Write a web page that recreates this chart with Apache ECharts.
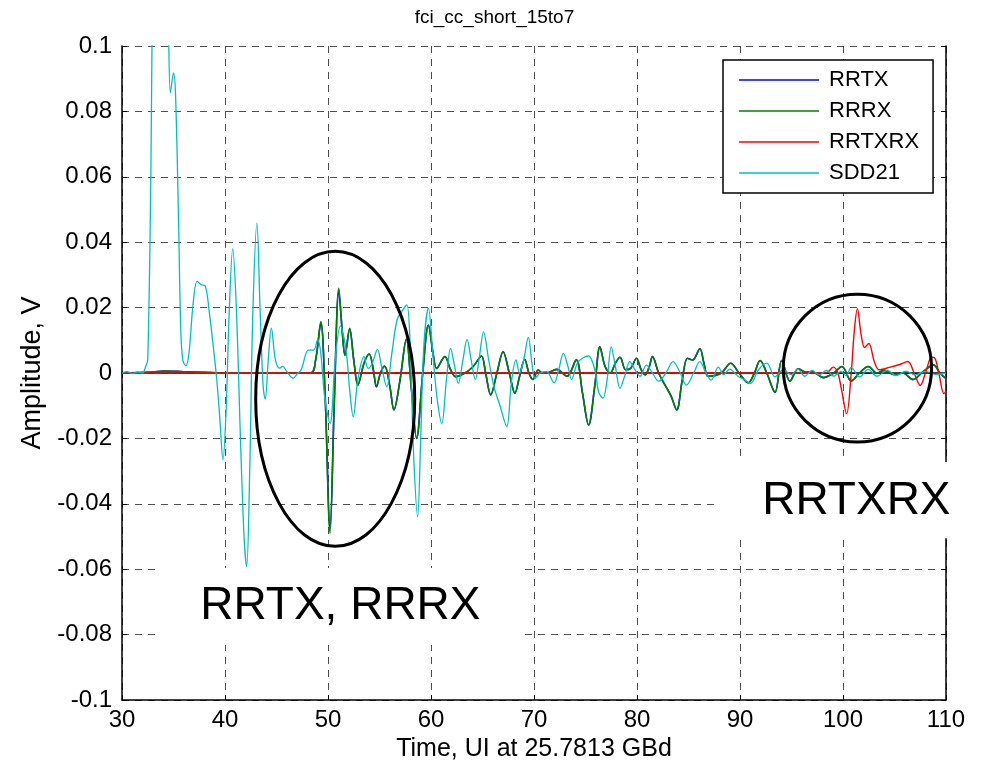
<!DOCTYPE html>
<html>
<head>
<meta charset="utf-8">
<script src="https://cdn.jsdelivr.net/npm/echarts@6/dist/echarts.min.js"></script>
<style>
  html, body { margin: 0; padding: 0; background: #fff; }
  #chart { width: 989px; height: 771px; }
</style>
</head>
<body>
<div id="chart"></div>
<script>
// x ticks / y ticks
const xTicks = [30, 40, 50, 60, 70, 80, 90, 100, 110]
const yTicks = [-0.1, -0.08, -0.06, -0.04, -0.02, 0, 0.02, 0.04, 0.06, 0.08, 0.1]

// [time UI, amplitude V]
const rrtx = [[30,0],[33,0.0003],[34,0.0006],[36,0.0004],[38,0.0002],[40,0],[48.3,0],[48.8,0.004],[49.3,0.0152],[49.7,-0.005],[50.2,-0.0475],[50.6,-0.01],[51.05,0.025],[51.4,0.012],[51.65,0.0054],[52.1,0.0135],[52.5,0.004],[52.9,-0.0037],[53.5,0.003],[54.0,0.0058],[54.4,0.001],[54.7,-0.0042],[55.1,0],[55.5,0.0021],[56.0,-0.004],[56.4,-0.0113],[57.0,-0.002],[57.6,0.0103],[58.1,-0.005],[58.6,-0.02],[59.2,0],[59.75,0.0147],[60.2,0.006],[60.55,0.0014],[61.35,0.005],[61.9,0.001],[62.4,-0.0011],[63.3,0],[64.1,0.002],[64.9,0.0052],[65.3,0],[65.8,-0.0067],[66.4,0],[67.0,0.0065],[67.6,0],[68.15,-0.0062],[68.6,-0.001],[69.1,0.0042],[69.5,0],[69.9,-0.002],[70.4,0.0009],[70.8,0],[71.2,0],[72.2,0.0011],[73.2,-0.001],[74.1,0.004],[74.7,-0.006],[75.3,-0.0159],[75.9,-0.004],[76.4,0.008],[76.9,0.002],[77.4,0],[77.9,0.003],[78.35,0.0048],[78.9,0.001],[79.4,0.0015],[79.95,0.0045],[80.4,0.001],[80.8,-0.0006],[81.2,0.002],[81.5,0.005],[82.1,0],[82.6,-0.003],[83.3,-0.007],[83.85,-0.0113],[84.4,-0.002],[84.9,0.0045],[85.4,0.004],[86.1,0.0074],[86.5,0.003],[86.9,-0.001],[87.5,-0.0008],[88.2,0],[89.1,0.003],[89.9,0],[90.8,-0.003],[91.4,0],[91.95,0.0038],[92.6,0],[93.4,-0.0059],[94.05,0.0038],[94.85,-0.0025],[95.65,0.0013],[96.3,0.0004],[97.0,0.0004],[98.1,-0.0014],[99.1,0],[99.9,0.002],[100.8,-0.0024],[101.6,0],[102.45,0.002],[103.3,0],[104.0,0.0008],[105.0,-0.0005],[105.8,0],[106.8,-0.002],[107.8,0.0005],[108.8,0.0025],[109.4,0],[110,-0.0017]]

const rrrx = [[30,0],[33,0.0003],[34,0.0006],[36,0.0004],[38,0.0002],[40,0],[48.3,0],[48.8,0.004],[49.3,0.0157],[49.7,-0.005],[50.2,-0.049],[50.6,-0.01],[51.05,0.0259],[51.4,0.012],[51.65,0.0054],[52.1,0.0137],[52.5,0.004],[52.9,-0.0037],[53.5,0.003],[54.0,0.0058],[54.4,0.001],[54.7,-0.0042],[55.1,0],[55.5,0.0021],[56.0,-0.004],[56.4,-0.0113],[57.0,-0.002],[57.6,0.0103],[58.1,-0.005],[58.6,-0.02],[59.2,0],[59.75,0.0147],[60.2,0.006],[60.55,0.0014],[61.35,0.005],[61.9,0.001],[62.4,-0.0011],[63.3,0],[64.1,0.002],[64.9,0.0052],[65.3,0],[65.8,-0.0067],[66.4,0],[67.0,0.0065],[67.6,0],[68.15,-0.0062],[68.6,-0.001],[69.1,0.0042],[69.5,0],[69.9,-0.002],[70.4,0.0009],[70.8,0],[71.2,0],[72.2,0.0011],[73.2,-0.001],[74.1,0.004],[74.7,-0.006],[75.3,-0.0159],[75.9,-0.004],[76.4,0.008],[76.9,0.002],[77.4,0],[77.9,0.003],[78.35,0.0048],[78.9,0.001],[79.4,0.0015],[79.95,0.0045],[80.4,0.001],[80.8,-0.0006],[81.2,0.002],[81.5,0.005],[82.1,0],[82.6,-0.003],[83.3,-0.007],[83.85,-0.0113],[84.4,-0.002],[84.9,0.0045],[85.4,0.004],[86.1,0.0074],[86.5,0.003],[86.9,-0.001],[87.5,-0.0008],[88.2,0],[89.1,0.003],[89.9,0],[90.8,-0.003],[91.4,0],[91.95,0.0038],[92.6,0],[93.4,-0.0059],[94.05,0.0038],[94.85,-0.0025],[95.65,0.0013],[96.3,0.0004],[97.0,0.0004],[98.1,-0.0014],[99.1,0],[99.9,0.002],[100.8,-0.0024],[101.6,0],[102.45,0.002],[103.3,0],[104.0,0.0008],[105.0,-0.0005],[105.8,0],[106.8,-0.002],[107.8,0.0005],[108.8,0.0025],[109.4,0],[110,-0.0017]]

const rrtxrx = [[30,0],[98.2,0],[98.6,0.0005],[99.05,0.0018],[99.5,0],[99.85,-0.005],[100.35,-0.0125],[100.8,0],[101.1,0.013],[101.4,0.0197],[101.75,0.012],[102.1,0.0078],[102.5,0.009],[103.05,0.0034],[103.5,0.001],[104.5,0.0017],[105.5,0.0026],[106.3,0.0035],[106.9,0],[107.5,-0.0038],[108.1,0.001],[108.6,0.0048],[108.9,0.0046],[109.3,0],[109.8,-0.0063],[110,-0.0055]]

const sdd21 = [[30,0],[30.5,0.0004],[31,-0.0002],[31.5,0.0003],[32,0],[32.3,0.002],[32.5,0.004],[32.8,0.06],[33.1,0.16],[33.6,0.23],[34.1,0.18],[34.5,0.11],[34.7,0.0857],[35.0,0.0918],[35.2,0.085],[35.5,0.045],[35.7,0.014],[35.9,0.004],[36.2,0.0022],[36.5,0.006],[36.9,0.021],[37.3,0.028],[37.7,0.027],[38.1,0.0265],[38.5,0.018],[38.9,0.007],[39.2,-0.002],[39.5,-0.014],[39.8,-0.0266],[40.1,-0.012],[40.4,0.018],[40.75,0.038],[41.1,0.02],[41.5,-0.02],[41.85,-0.05],[42.1,-0.0592],[42.4,-0.03],[42.7,0.018],[43.1,0.0458],[43.4,0.02],[43.7,-0.004],[43.9,-0.008],[44.2,0.004],[44.5,0.0137],[44.9,0.004],[45.3,0.0015],[45.6,0.002],[46.0,0.0005],[46.6,-0.0016],[47.0,-0.0003],[47.4,0.001],[48.1,0.007],[48.6,0.007],[49.0,0.0103],[49.3,0.006],[49.7,-0.008],[50.2,-0.0154],[50.7,0.004],[51.2,0.0144],[51.75,0.007],[52.1,-0.005],[52.45,-0.0134],[52.9,-0.002],[53.5,0.005],[53.9,0.0014],[54.3,0.003],[54.8,0.0072],[55.2,0.002],[55.7,-0.0042],[56.2,0.006],[56.7,0.0162],[57.2,0.019],[57.65,0.0208],[58.0,0.006],[58.3,-0.024],[58.7,-0.044],[59.0,-0.02],[59.3,0.008],[59.75,0.0198],[60.2,0.005],[60.6,-0.008],[61.05,-0.0154],[61.5,-0.002],[61.9,0.0075],[62.3,0.002],[62.65,-0.0032],[63.1,0.004],[63.5,0.0103],[63.9,0.004],[64.3,-0.002],[64.7,0.005],[65.1,0.0126],[65.6,0.004],[66.1,-0.004],[66.7,-0.01],[67.35,-0.0164],[67.8,-0.003],[68.25,0.004],[68.6,0],[69.0,0.004],[69.45,0.0109],[69.8,0.003],[70.1,-0.0016],[70.6,0],[71.2,0.0005],[71.95,-0.003],[72.4,0.001],[72.85,0.006],[73.3,0.002],[73.65,-0.002],[74.2,0.003],[74.7,0.0045],[75.3,0.0052],[75.9,0.001],[76.3,-0.006],[76.7,-0.0077],[77.1,-0.002],[77.5,0.008],[77.9,0.002],[78.35,-0.0047],[78.8,-0.001],[79.3,0.0035],[79.8,0.001],[80.3,-0.001],[80.9,0.0024],[81.5,0],[82.1,-0.0025],[82.8,0],[83.5,0.0035],[84.2,0],[84.8,-0.0037],[85.5,0],[86.1,0.0035],[86.7,0],[87.2,-0.0022],[87.9,0.0018],[88.4,-0.0005],[89.0,0.0012],[89.8,-0.001],[90.4,-0.002],[91.0,-0.0032],[91.8,0.001],[92.6,0.003],[93.4,-0.0012],[94.2,0.001],[95.0,-0.0005],[95.6,0.0012],[96.3,-0.001],[97.0,0.0008],[97.7,-0.0006],[98.4,0.0008],[99.1,-0.001],[99.8,0.0005],[100.3,-0.0008],[100.8,0.0017],[101.6,-0.0012],[102.45,0.0011],[103.3,-0.001],[104.3,0.0008],[105.2,-0.0008],[106.1,0.0006],[107.0,-0.0006],[108.0,0.0005],[109.0,-0.0004],[110,0]]

const seriesNames = ['RRTX', 'RRRX', 'RRTXRX', 'SDD21']
const seriesColors = ['#0000ff', '#008000', '#ff0000', '#00bfbf']

const FONT = '"Liberation Sans", Arial, sans-serif'

const chart = echarts.init(document.getElementById('chart'), null, {renderer: 'canvas'})

// shared axis look (matlab style box with inward ticks)
const gridLine = {show: true, lineStyle: {color: '#222', type: [7, 6], width: 1, opacity: 0.8}}
const tickIn = {show: true, inside: true, length: 5, lineStyle: {color: '#000'}}

const makeLine = (name, data, color, width) => ({
    name: name,
    type: 'line',
    data: data,
    smooth: 0.35,
    symbol: 'none',
    clip: true,
    lineStyle: {color: color, width: width},
    itemStyle: {color: color},
    emphasis: {disabled: true},
    animation: false
})

const option = {
    backgroundColor: '#fff',
    animation: false,
    title: {
        text: 'fci_cc_short_15to7',
        left: 'center',
        top: 3,
        textStyle: {fontFamily: FONT, fontSize: 19, fontWeight: 'normal', color: '#000'}
    },
    legend: {
        orient: 'vertical',
        left: 723,
        top: 60,
        padding: [9, 14, 9, 16],
        icon: 'rect',
        itemWidth: 80,
        itemHeight: 1.6,
        itemGap: 9,
        backgroundColor: '#fff',
        borderColor: '#000',
        borderWidth: 1.5,
        data: seriesNames,
        textStyle: {fontFamily: FONT, fontSize: 22, color: '#000', padding: [0, 0, 0, 5]}
    },
    grid: {left: 122, right: 43, top: 46, bottom: 71, containLabel: false},
    xAxis: [{
        type: 'value', min: 30, max: 110, interval: 10,
        name: 'Time, UI at 25.7813 GBd',
        nameLocation: 'middle', nameGap: 35,
        nameTextStyle: {fontFamily: FONT, fontSize: 25, color: '#000'},
        axisLine: {show: true, onZero: false, lineStyle: {color: '#000', width: 1.5}},
        axisTick: tickIn,
        axisLabel: {fontFamily: FONT, fontSize: 24, color: '#000', margin: 8,
            formatter: v => xTicks.includes(v) ? String(v) : ''},
        splitLine: gridLine
    }, {
        type: 'value', min: 30, max: 110, interval: 10, position: 'top',
        axisLine: {show: true, lineStyle: {color: '#000', width: 1.5}},
        axisTick: tickIn, axisLabel: {show: false}, splitLine: {show: false}
    }],
    yAxis: [{
        type: 'value', min: -0.1, max: 0.1, interval: 0.02,
        name: 'Amplitude, V',
        nameLocation: 'middle', nameGap: 76,
        nameTextStyle: {fontFamily: FONT, fontSize: 27, color: '#000'},
        axisLine: {show: true, onZero: false, lineStyle: {color: '#000', width: 1.5}},
        axisTick: tickIn,
        axisLabel: {fontFamily: FONT, fontSize: 24, color: '#000', margin: 10,
            formatter: v => {
                const t = yTicks.find(k => Math.abs(k - v) < 1e-9)
                return t === undefined ? '' : String(Math.round(t * 100) / 100)
            }},
        splitLine: gridLine
    }, {
        type: 'value', min: -0.1, max: 0.1, interval: 0.02, position: 'right',
        axisLine: {show: true, lineStyle: {color: '#000', width: 1.5}},
        axisTick: tickIn, axisLabel: {show: false}, splitLine: {show: false}
    }],
    series: [
        makeLine(seriesNames[0], rrtx, seriesColors[0], 1.6),
        makeLine(seriesNames[1], rrrx, seriesColors[1], 1.6),
        makeLine(seriesNames[2], rrtxrx, seriesColors[2], 1.4),
        makeLine(seriesNames[3], sdd21, seriesColors[3], 1.3)
    ]
}
chart.setOption(option)

// annotations (ellipses, label boxes) placed in data coordinates
const px = p => chart.convertToPixel({xAxisIndex: 0, yAxisIndex: 0}, p)

const ellipse = (c, rx, ry) => {
    const o = px(c)
    const e = px([c[0] + rx, c[1] - ry])
    return {type: 'ellipse', z: 50, silent: true,
        shape: {cx: o[0], cy: o[1], rx: e[0] - o[0], ry: e[1] - o[1]},
        style: {fill: 'none', stroke: '#000', lineWidth: 3}}
}
const label = (box, center, text) => {
    const a = px(box[0]), b = px(box[1]), c = px(center)
    return [
        {type: 'rect', z: 60, silent: true,
            shape: {x: a[0], y: a[1], width: b[0] - a[0], height: b[1] - a[1]},
            style: {fill: '#fff'}},
        {type: 'text', z: 61, silent: true, x: c[0], y: c[1],
            style: {text: text, fill: '#000', font: '46px ' + FONT, align: 'center', verticalAlign: 'middle'}}
    ]
}

chart.setOption({
    graphic: [
        ellipse([50.7, -0.0079], 7.72, 0.0451),
        ellipse([101.4, 0.0015], 7.2, 0.0226),
        ...label([[33.5, -0.0596], [68.6, -0.0832]], [51.2, -0.0713], 'RRTX, RRRX'),
        ...label([[88.06, -0.0272], [111.4, -0.0505]], [101.3, -0.0391], 'RRTXRX')
    ]
})
</script>
</body>
</html>
